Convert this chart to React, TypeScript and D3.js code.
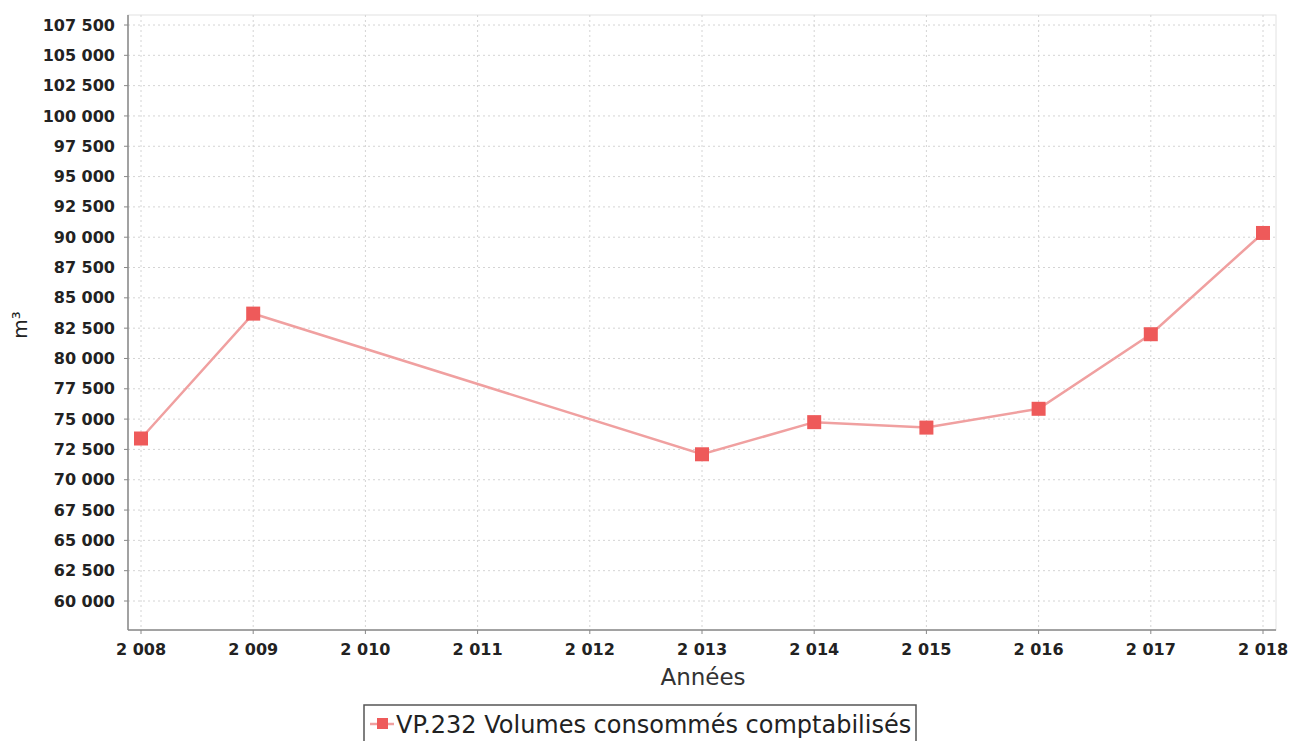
import React from "react";
import * as d3 from "d3";

const years = [2008, 2009, 2013, 2014, 2015, 2016, 2017, 2018];
const volumes = [73400, 83700, 72100, 74750, 74300, 75850, 82000, 90350];
const xTicks = [2008, 2009, 2010, 2011, 2012, 2013, 2014, 2015, 2016, 2017, 2018];
const yTicks = [60000, 62500, 65000, 67500, 70000, 72500, 75000, 77500, 80000, 82500, 85000, 87500, 90000, 92500, 95000, 97500, 100000, 102500, 105000, 107500];
const seriesName = "VP.232 Volumes consommés comptabilisés";
const xTitle = "Années";
const yTitle = "m³";

const W = 1292, H = 741;
const L = 128, R = 1276, T = 15, B = 630;

const fmt = (v: number) => {
  const s = String(v);
  return s.replace(/\B(?=(\d{3})+(?!\d))/g, " ");
};

export default function App() {
  const x = d3.scaleLinear().domain([2008, 2018]).range([141, 1263]);
  const y = d3.scaleLinear().domain([60000, 107500]).range([601, 25]);
  const line = d3.line<number>().x((_, i) => x(years[i])).y((d) => y(d));
  const color = "#ee5a5a";
  return (
    <svg width={W} height={H} style={{ position: "absolute", left: 0, top: 0, background: "#fff" }} fontFamily="DejaVu Sans">
      <rect x={L} y={T} width={R - L} height={B - T} fill="#fff" stroke="#e2e2e2" />
      {yTicks.map((t) => (
        <line key={"gy" + t} x1={L} x2={R} y1={y(t)} y2={y(t)} stroke="#d4d4d4" strokeDasharray="2,3" />
      ))}
      {xTicks.map((t) => (
        <line key={"gx" + t} x1={x(t)} x2={x(t)} y1={T} y2={B} stroke="#d4d4d4" strokeDasharray="2,3" />
      ))}
      <line x1={L} x2={L} y1={T} y2={B} stroke="#888" strokeWidth={1.5} />
      <line x1={L} x2={R} y1={B} y2={B} stroke="#888" strokeWidth={1.5} />
      {yTicks.map((t) => (
        <g key={"ty" + t}>
          <line x1={L - 4} x2={L} y1={y(t)} y2={y(t)} stroke="#888" />
          <text x={L - 13} y={y(t)} dy="0.35em" textAnchor="end" fontSize={16} fontWeight="bold" fill="#222">{fmt(t)}</text>
        </g>
      ))}
      {xTicks.map((t) => (
        <g key={"tx" + t}>
          <line x1={x(t)} x2={x(t)} y1={B} y2={B + 4} stroke="#888" />
          <text x={x(t)} y={B + 25} textAnchor="middle" fontSize={16} fontWeight="bold" fill="#222">{fmt(t)}</text>
        </g>
      ))}
      <text x={703} y={685} textAnchor="middle" fontSize={23} fill="#333">{xTitle}</text>
      <text transform="translate(27,325) rotate(-90)" textAnchor="middle" fontSize={20} fill="#222">{yTitle}</text>
      <path d={line(volumes) ?? ""} fill="none" stroke="#f0a0a0" strokeWidth={2.5} />
      {volumes.map((v, i) => (
        <rect key={"m" + i} x={x(years[i]) - 7} y={y(v) - 7} width={14} height={14} fill={color} />
      ))}
      <rect x={364} y={705} width={552} height={40} fill="#fff" stroke="#555" strokeWidth={1.5} />
      <line x1={370} x2={394} y1={724} y2={724} stroke="#f0a0a0" strokeWidth={2.5} />
      <rect x={377} y={718} width={11} height={11} fill={color} />
      <text x={396} y={733} fontSize={24} fill="#222">{seriesName}</text>
    </svg>
  );
}
